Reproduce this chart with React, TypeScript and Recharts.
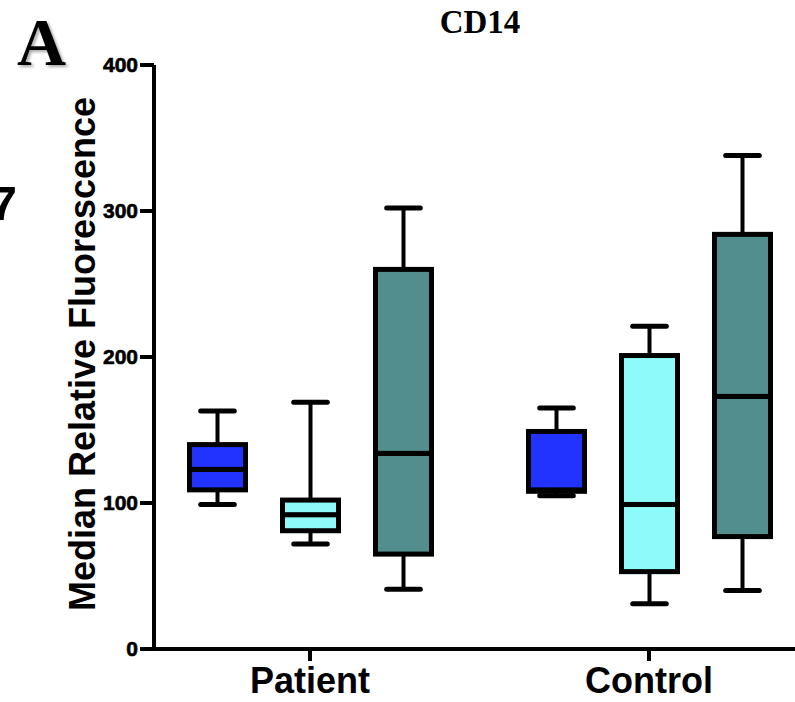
import { ComposedChart, Bar, XAxis, YAxis } from 'recharts'

const GROUPS = ['Patient', 'Control']
const Y_TICKS = [0, 100, 200, 300, 400]

// five-number summaries per group: [min, q1, median, q3, max]
const BLUE_STATS = [
  [99, 109, 123, 140, 163],
  [105, 108, 109, 149, 165],
]
const CYAN_STATS = [
  [72, 81, 92, 102, 169],
  [31, 53, 99, 201, 221],
]
const TEAL_STATS = [
  [41, 65, 134, 260, 302],
  [40, 77, 173, 284, 338],
]

const SERIES = [
  { key: 'blue', color: '#2233ff', stats: BLUE_STATS },
  { key: 'cyan', color: '#8ffafa', stats: CYAN_STATS },
  { key: 'teal', color: '#538e8e', stats: TEAL_STATS },
]

const SANS = '"Liberation Sans", Arial, Helvetica, sans-serif'
const SERIF = '"Liberation Serif", "Times New Roman", serif'

// stacked segments: invisible base, lower whisker, lower box, upper box, upper whisker
const rows = GROUPS.map((name, g) => {
  const row: Record<string, number | string> = { name }
  for (const s of SERIES) {
    const [min, q1, med, q3, max] = s.stats[g]
    row[`${s.key}_base`] = min
    row[`${s.key}_lw`] = q1 - min
    row[`${s.key}_lb`] = med - q1
    row[`${s.key}_ub`] = q3 - med
    row[`${s.key}_uw`] = max - q3
  }
  return row
})

function whisker(top: boolean) {
  return (props: any) => {
    const { x, y, width, height } = props
    const cx = x + width / 2
    const capY = top ? y : y + height
    const capW = width * 0.6
    return (
      <g>
        <line x1={cx} x2={cx} y1={y} y2={y + height} stroke="#000" strokeWidth={4} />
        <line
          x1={cx - capW / 2}
          x2={cx + capW / 2}
          y1={capY}
          y2={capY}
          stroke="#000"
          strokeWidth={5}
          strokeLinecap="round"
        />
      </g>
    )
  }
}

function box(color: string) {
  return (props: any) => {
    const { x, y, width, height } = props
    return <rect x={x} y={y} width={width} height={height} fill={color} stroke="#000" strokeWidth={5} />
  }
}

export default function App() {
  return (
    <div style={{ position: 'absolute', left: 0, top: 0, width: 795, height: 702 }}>
      <ComposedChart
        width={795}
        height={702}
        data={rows}
        margin={{ top: 65, right: 0, bottom: 0, left: 0 }}
        barSize={56}
        barGap={37}
      >
        <XAxis
          dataKey="name"
          height={53}
          padding={{ left: -13.5, right: -23.5 }}
          tickSize={12}
          tickMargin={6}
          axisLine={{ stroke: '#000', strokeWidth: 4 }}
          tickLine={{ stroke: '#000', strokeWidth: 4 }}
          tick={{ fontSize: 36, fontWeight: 700, fill: '#000', fontFamily: SANS }}
        />
        <YAxis
          domain={[0, 400]}
          ticks={Y_TICKS}
          width={154}
          tickSize={14}
          tickMargin={2}
          axisLine={{ stroke: '#000', strokeWidth: 4 }}
          tickLine={{ stroke: '#000', strokeWidth: 4 }}
          tick={{ fontSize: 21, fontWeight: 700, fill: '#000', fontFamily: SANS, stroke: '#000', strokeWidth: 0.6 }}
        />
        {SERIES.flatMap((s) => [
          <Bar key={`${s.key}_base`} dataKey={`${s.key}_base`} stackId={s.key} fill="none" isAnimationActive={false} />,
          <Bar key={`${s.key}_lw`} dataKey={`${s.key}_lw`} stackId={s.key} shape={whisker(false)} isAnimationActive={false} />,
          <Bar key={`${s.key}_lb`} dataKey={`${s.key}_lb`} stackId={s.key} shape={box(s.color)} isAnimationActive={false} />,
          <Bar key={`${s.key}_ub`} dataKey={`${s.key}_ub`} stackId={s.key} shape={box(s.color)} isAnimationActive={false} />,
          <Bar key={`${s.key}_uw`} dataKey={`${s.key}_uw`} stackId={s.key} shape={whisker(true)} isAnimationActive={false} />,
        ])}
      </ComposedChart>
      <svg width={795} height={702} style={{ position: 'absolute', left: 0, top: 0, pointerEvents: 'none' }}>
        <defs>
          <filter id="soft-shadow" x="-20%" y="-20%" width="140%" height="140%">
            <feDropShadow dx={2} dy={2} stdDeviation={1.5} floodColor="#000" floodOpacity={0.35} />
          </filter>
        </defs>
        <text x={17} y={65} fontFamily={SERIF} fontWeight={700} fontSize={68} fill="#000" filter="url(#soft-shadow)">
          A
        </text>
        <text x={17} y={220} textAnchor="end" fontFamily={SANS} fontWeight={700} fontSize={49} fill="#000">
          7
        </text>
        <text x={480} y={33} textAnchor="middle" fontFamily={SERIF} fontWeight={700} fontSize={33} fill="#000">
          CD14
        </text>
        <text
          transform="translate(95, 354) rotate(-90)"
          textAnchor="middle"
          fontFamily={SANS}
          fontWeight={700}
          fontSize={36}
          fill="#000"
        >
          Median Relative Fluorescence
        </text>
      </svg>
    </div>
  )
}
